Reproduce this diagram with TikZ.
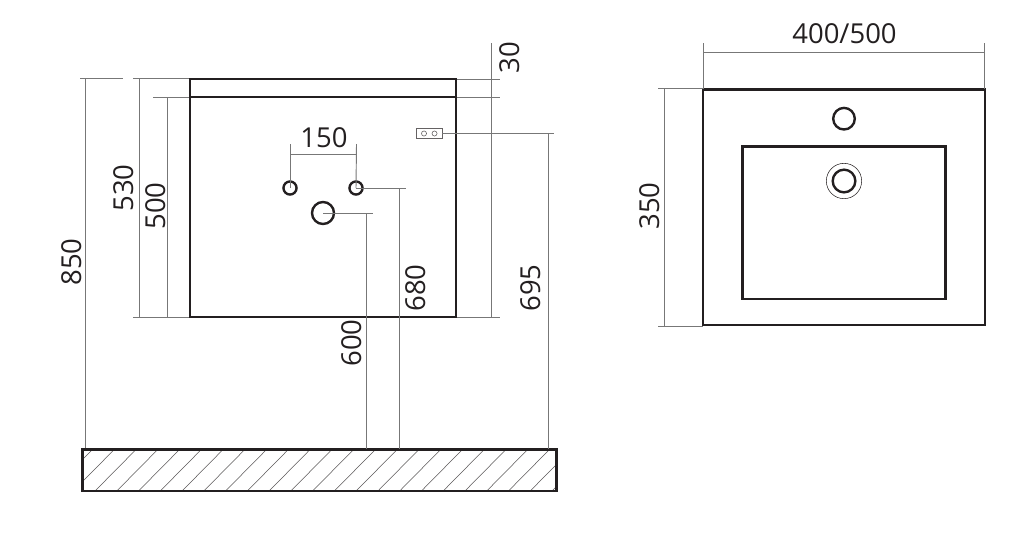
\documentclass[tikz,border=0pt]{standalone}
\usepackage{fontspec}
\setmainfont{Open Sans}
\usepackage{xcolor}
\usetikzlibrary{positioning}
\definecolor{inkdark}{HTML}{231F20}
\definecolor{dimgray}{HTML}{777777}

\begin{document}
\begin{tikzpicture}[
        x=0.75pt, y=-0.75pt,
        outline/.style={draw=inkdark, line width=1.9pt, fill=none},
        dimline/.style={draw=dimgray, line width=0.7pt},
        hatchline/.style={draw=inkdark!75, line width=0.4pt},
        dimtext/.style={font=\fontsize{20.6}{24}\selectfont, text=inkdark, inner sep=0pt},
        vdimtext/.style={dimtext, rotate=90},
        hole/.style={circle, draw=inkdark, line width=1.8pt, inner sep=0pt, minimum size=#1},
        ring/.style={circle, draw=inkdark, line width=0.4pt, inner sep=0pt, minimum size=#1},
        pin/.style={circle, draw=inkdark!70, line width=0.45pt, inner sep=0pt, minimum size=3.8pt}
    ]
        \useasboundingbox (0,0) rectangle (1024,543);

        % Anchor points
        \coordinate (cabtl) at (190,79);
        \coordinate (cabbr) at (456,317);
        \coordinate (floortl) at (82.5,449.5);
        \coordinate (floorbr) at (556.5,491);

        % Dimension lines (Front View)
        \draw[dimline] (80,78) -- (123,78);
        \draw[dimline] (133,78) -- (190,78);
        \draw[dimline] (153,97) -- (190,97);
        \draw[dimline] (133,317) -- (190,317);
        \draw[dimline] (85.5,78) -- (85.5,449);
        \draw[dimline] (139,78) -- (139,317);
        \draw[dimline] (167,97) -- (167,317);
        \draw[dimline] (491,43) -- (491,317);
        \draw[dimline] (456,79) -- (500,79);
        \draw[dimline] (456,97) -- (500,97);
        \draw[dimline] (456,317) -- (500,317);

        % Floor
        \begin{scope}
            \clip (floortl) rectangle (floorbr);
            \foreach \k in {-2,...,21} {
                \draw[hatchline] ({95+21.76*\k},491) -- ({136+21.76*\k},449.5);
            }
        \end{scope}
        \draw[outline] (floortl) rectangle (floorbr);

        % Cabinet
        \draw[outline] (cabtl) rectangle (cabbr);
        \draw[outline] (190,97) -- (456,97);

        % Holes and switch
        \node[hole=9.8pt] (holeleft) at (290,188) {};
        \node[hole=9.8pt] (holeright) at (356,188) {};
        \node[hole=16.5pt] (holedrain) at (323,213) {};
        \node[draw=inkdark!70, line width=0.55pt, minimum width=19pt, minimum height=7pt, inner sep=0pt] (switch) at (429.3,133.5) {};
        \node[pin] (pinone) at (424,133.5) {};
        \node[pin] (pintwo) at (434.5,133.5) {};

        % Leaders
        \draw[dimline] (holeleft.center) -- (290,144);
        \draw[dimline] (holeright.center) -- (356.5,144);
        \draw[dimline] (290,154) -- (356.5,154);
        \draw[dimline] (holeright.center) -- (406,188);
        \draw[dimline] (399.5,188) -- (399.5,449);
        \draw[dimline] (holedrain.center) -- (373,213);
        \draw[dimline] (366.5,213) -- (366.5,449);
        \draw[dimline] (switch.east) -- (554,133.5);
        \draw[dimline] (548,133.5) -- (548,449);

        % Labels (Front View)
        \node[vdimtext] (dimheight) at (72,262) {850};
        \node[vdimtext] (dimbody) at (124,188) {530};
        \node[vdimtext] (dimfront) at (156,206) {500};
        \node[vdimtext] (dimtop) at (510,58) {30};
        \node[dimtext] (dimholes) at (324,138) {150};
        \node[vdimtext] (dimdrain) at (352,343) {600};
        \node[vdimtext] (dimwater) at (416,288) {680};
        \node[vdimtext] (dimsocket) at (531,288) {695};

        % Top View
        \draw[outline] (703,89.7) rectangle (985,325);
        \draw[outline] (742.3,146.3) rectangle (945.7,299);
        \node[hole=16.2pt] (holetap) at (844,118.7) {};
        \node[hole=17pt] (holesink) at (844,181) {};
        \node[ring=26.5pt] (holering) at (844,181) {};

        % Dimension lines (Top View)
        \draw[dimline] (703,43) -- (703,89);
        \draw[dimline] (984.5,43) -- (984.5,89);
        \draw[dimline] (703,52) -- (984.5,52);
        \draw[dimline] (658,88.5) -- (703,88.5);
        \draw[dimline] (658,326) -- (703,326);
        \draw[dimline] (664.3,88.5) -- (664.3,326);
        \node[dimtext] (dimwidth) at (844.5,34) {400/500};
        \node[vdimtext] (dimdepth) at (650,206) {350};
\end{tikzpicture}
\end{document}
